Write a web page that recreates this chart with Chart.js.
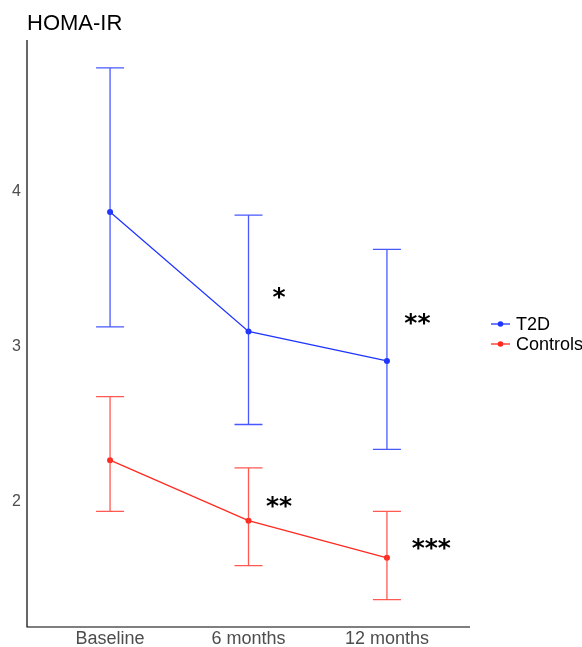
<!DOCTYPE html>
<html>
<head>
<meta charset="utf-8">
<script src="https://cdn.jsdelivr.net/npm/chart.js@4.4.1/dist/chart.umd.min.js"></script>
<style>
  html, body { margin: 0; padding: 0; background: #fff; }
  #wrap { width: 582px; height: 647px; position: relative; }
</style>
</head>
<body>
<div id="wrap"><canvas id="chart"></canvas></div>
<script>
// data
const timepoints = ['Baseline', '6 months', '12 months'];
const yTicks = [2, 3, 4];

const t2dMean = [3.87, 3.10, 2.91];
const t2dUpper = [4.80, 3.85, 3.63];
const t2dLower = [3.13, 2.50, 2.34];

const ctrlMean = [2.27, 1.88, 1.64];
const ctrlUpper = [2.68, 2.22, 1.94];
const ctrlLower = [1.94, 1.59, 1.37];

// significance marks: [timepoint index, x offset, y value, text]
const t2dStars = [[1, 0.22, 3.34, '*'], [2, 0.22, 3.17, '**']];
const ctrlStars = [[1, 0.22, 1.99, '**'], [2, 0.32, 1.72, '***']];

const blue = '#1f35ff';
const red = '#ff2a1f';

const errorBars = {
    id: 'errorBars',
    afterDatasetsDraw(chart) {
        const ctx = chart.ctx;
        const x = chart.scales.x, y = chart.scales.y;
        chart.data.datasets.forEach(ds => {
            ctx.save();
            ctx.strokeStyle = ds.errColor;
            ctx.lineWidth = 1.3;
            ds.upper.forEach((u, i) => {
                const px = x.getPixelForValue(i);
                const top = y.getPixelForValue(u);
                const bot = y.getPixelForValue(ds.lower[i]);
                const half = 14;
                ctx.beginPath();
                ctx.moveTo(px, top); ctx.lineTo(px, bot);
                ctx.moveTo(px - half, top); ctx.lineTo(px + half, top);
                ctx.moveTo(px - half, bot); ctx.lineTo(px + half, bot);
                ctx.stroke();
            });
            ctx.restore();
        });
    }
};

const extras = {
    id: 'extras',
    afterDraw(chart) {
        const ctx = chart.ctx;
        const x = chart.scales.x, y = chart.scales.y;
        ctx.save();
        // title
        ctx.fillStyle = '#000';
        ctx.font = '22px "Liberation Sans", Arial, sans-serif';
        ctx.textBaseline = 'alphabetic';
        ctx.textAlign = 'left';
        ctx.fillText('HOMA-IR', 27, 30);

        // axis lines
        ctx.strokeStyle = '#000';
        ctx.lineWidth = 1.2;
        ctx.beginPath();
        ctx.moveTo(chart.chartArea.left, chart.chartArea.top);
        ctx.lineTo(chart.chartArea.left, chart.chartArea.bottom);
        ctx.lineTo(chart.chartArea.right, chart.chartArea.bottom);
        ctx.stroke();

        // stars
        ctx.font = 'bold 25px "DejaVu Sans", sans-serif';
        ctx.textAlign = 'center';
        ctx.textBaseline = 'middle';
        t2dStars.concat(ctrlStars).forEach(s => {
            ctx.fillText(s[3], x.getPixelForValue(s[0] + s[1]), y.getPixelForValue(s[2]) + 4);
        });

        // legend
        ctx.font = '18px "Liberation Sans", Arial, sans-serif';
        ctx.textAlign = 'left';
        chart.data.datasets.forEach((ds, i) => {
            const ly = 324 + i * 20;
            ctx.strokeStyle = ds.borderColor;
            ctx.fillStyle = ds.borderColor;
            ctx.lineWidth = 1.3;
            ctx.beginPath();
            ctx.moveTo(491, ly); ctx.lineTo(510, ly);
            ctx.stroke();
            ctx.beginPath();
            ctx.arc(500.5, ly, 2.8, 0, Math.PI * 2);
            ctx.fill();
            ctx.fillStyle = '#000';
            ctx.fillText(ds.label, 516, ly + 1);
        });
        ctx.restore();
    }
};

new Chart(document.getElementById('chart'), {
    type: 'line',
    data: {
        datasets: [
            {
                label: 'T2D',
                data: t2dMean.map((v, i) => ({ x: i, y: v })),
                upper: t2dUpper,
                lower: t2dLower,
                borderColor: blue,
                backgroundColor: blue,
                errColor: 'rgba(40,60,255,0.85)',
                borderWidth: 1.3,
                pointRadius: 3,
                pointBorderWidth: 0,
                tension: 0
            },
            {
                label: 'Controls',
                data: ctrlMean.map((v, i) => ({ x: i, y: v })),
                upper: ctrlUpper,
                lower: ctrlLower,
                borderColor: red,
                backgroundColor: red,
                errColor: 'rgba(255,60,50,0.85)',
                borderWidth: 1.3,
                pointRadius: 3,
                pointBorderWidth: 0,
                tension: 0
            }
        ]
    },
    options: {
        responsive: true,
        maintainAspectRatio: false,
        animation: false,
        layout: { padding: { top: 40, right: 112, left: 0, bottom: 0 } },
        plugins: {
            legend: { display: false },
            tooltip: { enabled: false }
        },
        scales: {
            x: {
                type: 'linear',
                min: -0.6,
                max: 2.6,
                grid: { display: false, drawTicks: false },
                border: { display: false },
                afterBuildTicks: axis => { axis.ticks = [0, 1, 2].map(v => ({ value: v })); },
                afterFit: axis => { axis.height = 20; },
                ticks: {
                    padding: 1,
                    color: '#4d4d4d',
                    font: { size: 18, family: '"Liberation Sans", Arial, sans-serif' },
                    callback: v => timepoints[v]
                }
            },
            y: {
                min: 1.194,
                max: 4.98,
                grid: { display: false, drawTicks: false },
                border: { display: false },
                afterBuildTicks: axis => { axis.ticks = yTicks.map(v => ({ value: v })); },
                afterFit: axis => { axis.width = 27; },
                ticks: {
                    padding: 6,
                    color: '#4d4d4d',
                    font: { size: 16, family: '"Liberation Sans", Arial, sans-serif' }
                }
            }
        }
    },
    plugins: [errorBars, extras]
});
</script>
</body>
</html>
